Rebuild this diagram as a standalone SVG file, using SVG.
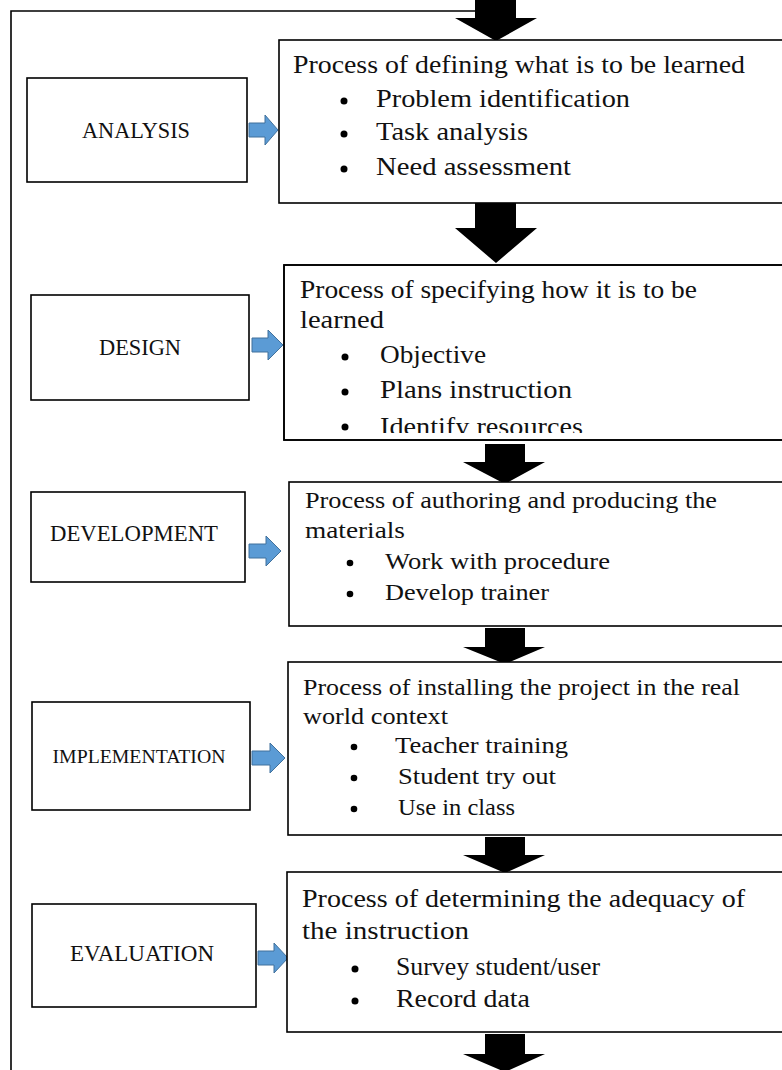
<svg xmlns="http://www.w3.org/2000/svg" width="782" height="1070" viewBox="0 0 782 1070">
<style>
.box{fill:#fff;stroke:#000;stroke-width:1.6}
.t{font-family:"Liberation Serif","Times New Roman",serif;font-size:25px;fill:#111}
.s{font-size:24px}
.lbl{font-family:"Liberation Serif","Times New Roman",serif;fill:#111;text-anchor:middle}
.blk{fill:#000}
.blu{fill:#5b9bd5;stroke:#41719c;stroke-width:1}
.dot{fill:#000}
</style>
<defs>
<clipPath id="clipDesign"><rect x="284" y="265" width="498" height="168"/></clipPath>
</defs>
<rect width="782" height="1070" fill="#fff"/>
<path d="M11,1070 V11 H476" fill="none" stroke="#000" stroke-width="1.6"/>

<g id="connectors">
<path class="blk" d="M475,0 H516 V18 H537 L496,41 L455,18 H475 Z"/>
<path class="blk" d="M475,203 H516 V228 H537 L496,263 L455,228 H475 Z"/>
<path class="blk" d="M485,444 H525 V462 H545 L505,484 L463,462 H485 Z"/>
<path class="blk" d="M485,628 H525 V647 H545 L505,664 L463,647 H485 Z"/>
<path class="blk" d="M485,837 H525 V855 H545 L505,873 L463,855 H485 Z"/>
<path class="blk" d="M485,1034 H525 V1054 H545 L505,1072 L463,1054 H485 Z"/>
<path class="blu" d="M249,123 H265 V115 L278,130 L265,145 V137 H249 Z"/>
<path class="blu" d="M252,338 H268 V330 L283,345 L268,360 V352 H252 Z"/>
<path class="blu" d="M249,544 H266 V536 L281,551 L266,566 V558 H249 Z"/>
<path class="blu" d="M252,751 H270 V743 L285,758 L270,773 V765 H252 Z"/>
<path class="blu" d="M258,951 H274 V943 L288,958 L274,973 V965 H258 Z"/>
</g>

<g id="analysis">
<rect class="box" x="27" y="78" width="220" height="104"/>
<text class="lbl" x="136" y="138" font-size="23" textLength="108" lengthAdjust="spacingAndGlyphs">ANALYSIS</text>
</g>
<g id="analysis-detail">
<rect class="box" x="279" y="40" width="510" height="163"/>
<text class="t" x="293" y="73" textLength="452" lengthAdjust="spacingAndGlyphs">Process of defining what is to be learned</text>
<circle class="dot" cx="344" cy="101" r="3.5"/>
<text class="t" x="376" y="107" textLength="254" lengthAdjust="spacingAndGlyphs">Problem identification</text>
<circle class="dot" cx="344" cy="134" r="3.5"/>
<text class="t" x="376" y="140" textLength="152" lengthAdjust="spacingAndGlyphs">Task analysis</text>
<circle class="dot" cx="344" cy="169" r="3.5"/>
<text class="t" x="376" y="175" textLength="195" lengthAdjust="spacingAndGlyphs">Need assessment</text>
</g>

<g id="design">
<rect class="box" x="31" y="295" width="218" height="105"/>
<text class="lbl" x="140" y="355" font-size="23" textLength="82" lengthAdjust="spacingAndGlyphs">DESIGN</text>
</g>
<g id="design-detail">
<rect class="box" x="284" y="265" width="505" height="175"/>
<g clip-path="url(#clipDesign)">
<text class="t" x="300" y="298" textLength="397" lengthAdjust="spacingAndGlyphs">Process of specifying how it is to be</text>
<text class="t" x="300" y="328" textLength="84" lengthAdjust="spacingAndGlyphs">learned</text>
<circle class="dot" cx="345" cy="357" r="3.5"/>
<text class="t" x="380" y="363" textLength="106" lengthAdjust="spacingAndGlyphs">Objective</text>
<circle class="dot" cx="345" cy="392" r="3.5"/>
<text class="t" x="380" y="398" textLength="192" lengthAdjust="spacingAndGlyphs">Plans instruction</text>
<circle class="dot" cx="345" cy="427" r="3.5"/>
<text class="t" x="380" y="435" textLength="203" lengthAdjust="spacingAndGlyphs">Identify resources</text>
</g>
<rect x="284" y="265" width="505" height="175" fill="none" stroke="#000" stroke-width="1.6"/>
</g>

<g id="development">
<rect class="box" x="31" y="492" width="214" height="90"/>
<text class="lbl" x="134" y="541" font-size="23" textLength="168" lengthAdjust="spacingAndGlyphs">DEVELOPMENT</text>
</g>
<g id="development-detail">
<rect class="box" x="289" y="482" width="500" height="144"/>
<text class="t s" x="305" y="508" textLength="412" lengthAdjust="spacingAndGlyphs">Process of authoring and producing the</text>
<text class="t s" x="305" y="538" textLength="100" lengthAdjust="spacingAndGlyphs">materials</text>
<circle class="dot" cx="350" cy="563" r="3.3"/>
<text class="t s" x="385" y="569" textLength="225" lengthAdjust="spacingAndGlyphs">Work with procedure</text>
<circle class="dot" cx="350" cy="594" r="3.3"/>
<text class="t s" x="385" y="600" textLength="164" lengthAdjust="spacingAndGlyphs">Develop trainer</text>
</g>

<g id="implementation">
<rect class="box" x="32" y="702" width="218" height="108"/>
<text class="lbl" x="139" y="763" font-size="18" textLength="173" lengthAdjust="spacingAndGlyphs">IMPLEMENTATION</text>
</g>
<g id="implementation-detail">
<rect class="box" x="288" y="662" width="501" height="173"/>
<text class="t s" x="303" y="695" textLength="437" lengthAdjust="spacingAndGlyphs">Process of installing the project in the real</text>
<text class="t s" x="303" y="724" textLength="145" lengthAdjust="spacingAndGlyphs">world context</text>
<circle class="dot" cx="354" cy="747" r="3.3"/>
<text class="t s" x="395" y="753" textLength="173" lengthAdjust="spacingAndGlyphs">Teacher training</text>
<circle class="dot" cx="354" cy="778" r="3.3"/>
<text class="t s" x="398" y="784" textLength="158" lengthAdjust="spacingAndGlyphs">Student try out</text>
<circle class="dot" cx="354" cy="809" r="3.3"/>
<text class="t s" x="398" y="815" textLength="117" lengthAdjust="spacingAndGlyphs">Use in class</text>
</g>

<g id="evaluation">
<rect class="box" x="32" y="904" width="224" height="103"/>
<text class="lbl" x="142" y="961" font-size="23" textLength="144" lengthAdjust="spacingAndGlyphs">EVALUATION</text>
</g>
<g id="evaluation-detail">
<rect class="box" x="287" y="872" width="502" height="160"/>
<text class="t" x="302" y="907" textLength="443" lengthAdjust="spacingAndGlyphs">Process of determining the adequacy of</text>
<text class="t" x="302" y="939" textLength="167" lengthAdjust="spacingAndGlyphs">the instruction</text>
<circle class="dot" cx="355" cy="969" r="3.5"/>
<text class="t" x="396" y="975" textLength="204" lengthAdjust="spacingAndGlyphs">Survey student/user</text>
<circle class="dot" cx="355" cy="1001" r="3.5"/>
<text class="t" x="396" y="1007" textLength="134" lengthAdjust="spacingAndGlyphs">Record data</text>
</g>
</svg>
